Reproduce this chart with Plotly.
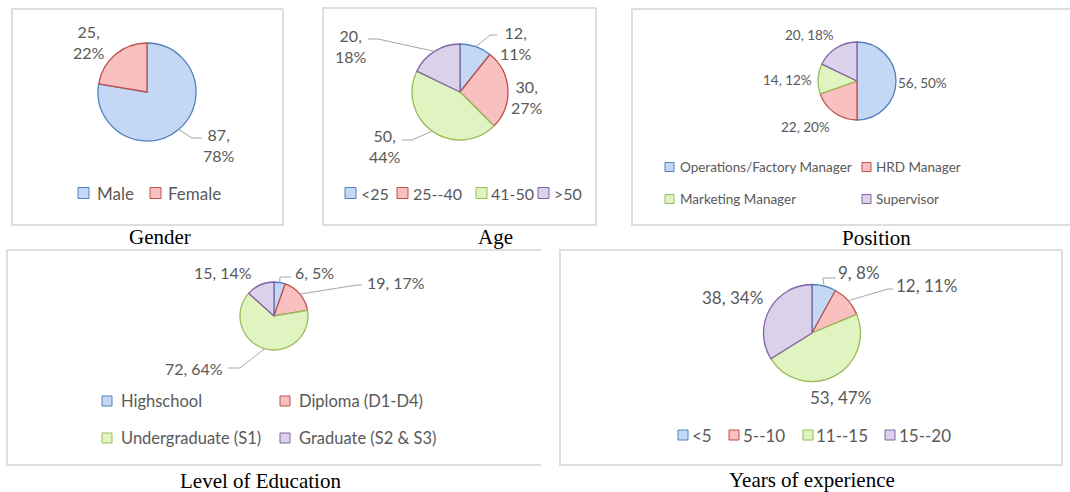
import math
import plotly.graph_objects as go

# ---------------- data ----------------
gender_labels = ["Male", "Female"]
gender_values = [87, 25]
gender_pct = [78, 22]

age_labels = ["<25", "25--40", "41-50", ">50"]
age_values = [12, 30, 50, 20]
age_pct = [11, 27, 44, 18]

position_labels = ["Operations/Factory Manager", "HRD Manager", "Marketing Manager", "Supervisor"]
position_values = [56, 22, 14, 20]
position_pct = [50, 20, 12, 18]

education_labels = ["Highschool", "Diploma (D1-D4)", "Undergraduate (S1)", "Graduate (S2 & S3)"]
education_values = [6, 19, 72, 15]
education_pct = [5, 17, 64, 14]

years_labels = ["<5", "5--10", "11--15", "15--20"]
years_values = [9, 12, 53, 38]
years_pct = [8, 11, 47, 34]

titles = ["Gender", "Age", "Position", "Level of Education", "Years of experience"]

# ---------------- styling / layout ----------------
W, H = 1070, 492
FILL = ["#c4d7f5", "#f8c1c0", "#e0f4c2", "#dbd1ea"]
LINE = ["#4f81bd", "#c0504d", "#9bbb59", "#8064a2"]
TXT = "#595959"
FONT = "Lato"


def px(x):
    return x / W


def py(y):
    return 1 - y / H


charts = [
    dict(labels=gender_labels, values=gender_values, pct=gender_pct, two_line=True,
         cx=147, cy=92, r=49, lab_size=16, leg_size=17, mk=11,
         label_pos=[(219, 145), (89, 42)],
         leaders={0: [(192, 138), (202, 138)]},
         legend=[(78, 193, 95), (150, 193, 166)],
         box=(12, 9, 283, 225, True), title_pos=(160, 237)),
    dict(labels=age_labels, values=age_values, pct=age_pct, two_line=True,
         cx=460, cy=92, r=48, lab_size=16, leg_size=16, mk=11,
         label_pos=[(516, 43), (527, 97), (385, 146), (351, 46)],
         leaders={0: [(490, 35), (497, 35)], 2: [(412, 140), (402, 140)], 3: [(378, 39), (368, 39)]},
         legend=[(345, 193, 359), (397, 193, 411), (476, 193, 489), (538, 193, 552)],
         box=(323, 8, 596, 225, True), title_pos=(495, 237)),
    dict(labels=position_labels, values=position_values, pct=position_pct, two_line=False,
         cx=857, cy=81, r=39, lab_size=13.5, leg_size=13.5, mk=9,
         label_pos=[(922, 83), (805, 127), (787, 80), (809, 35)],
         leaders={},
         legend=[(665, 167, 678), (862, 167, 874), (665, 199, 678), (862, 199, 874)],
         box=(632, 9, 1070, 225, False), title_pos=(876, 238)),
    dict(labels=education_labels, values=education_values, pct=education_pct, two_line=False,
         cx=274, cy=316, r=34, lab_size=16, leg_size=16.5, mk=10,
         label_pos=[(314, 272), (396, 282), (194, 368), (223, 272)],
         leaders={0: [(280, 277), (291, 277)], 1: [(357, 285), (362, 285)], 2: [(240, 368), (228, 368)]},
         legend=[(102, 401, 119), (280, 401, 297), (102, 438, 119), (280, 438, 297)],
         box=(7, 250, 541, 465, False), title_pos=(260, 481)),
    dict(labels=years_labels, values=years_values, pct=years_pct, two_line=False,
         cx=812, cy=333, r=48.5, lab_size=17, leg_size=17, mk=10,
         label_pos=[(859, 272), (926, 285), (840, 397), (732, 297)],
         leaders={0: [(823, 278), (836, 278)], 1: [(888, 289), (893, 289)]},
         legend=[(678, 435, 690), (729, 435, 741), (803, 435, 814), (885, 435, 897)],
         box=(560, 250, 1062, 465, True), title_pos=(812, 480)),
]

fig = go.Figure()
shapes = []
annotations = []

for ci, ch in enumerate(charts):
    cx, cy, r = ch["cx"], ch["cy"], ch["r"]
    fig.add_trace(go.Pie(
        labels=ch["labels"], values=ch["values"], sort=False, direction="clockwise",
        rotation=0, textinfo="none", hoverinfo="label+value+percent",
        marker=dict(colors=FILL, line=dict(color=LINE, width=1.3)),
        domain=dict(x=[px(cx - r), px(cx + r)], y=[py(cy + r), py(cy - r)]),
        showlegend=False,
    ))

    total = sum(ch["values"])
    cum = 0
    for i, (v, p) in enumerate(zip(ch["values"], ch["pct"])):
        mid = (cum + v / 2) / total * 2 * math.pi
        cum += v
        sep = ",<br>" if ch["two_line"] else ", "
        lx, ly = ch["label_pos"][i]
        annotations.append(dict(
            x=px(lx), y=py(ly), xref="paper", yref="paper", showarrow=False,
            text=f"{v}{sep}{p}%", xanchor="center", yanchor="middle", align="center",
            font=dict(family=FONT, size=ch["lab_size"], color=TXT)))
        if i in ch["leaders"]:
            ex, ey = cx + r * math.sin(mid), cy - r * math.cos(mid)
            pts = [(ex, ey)] + ch["leaders"][i]
            path = "M " + " L ".join(f"{px(a):.5f},{py(b):.5f}" for a, b in pts)
            shapes.append(dict(type="path", xref="paper", yref="paper", path=path,
                               line=dict(color="#a6a6a6", width=1)))

    # legend (drawn by hand: square swatch + text)
    for i, lab in enumerate(ch["labels"]):
        mx, my, tx = ch["legend"][i]
        s = ch["mk"]
        shapes.append(dict(type="rect", xref="paper", yref="paper",
                           x0=px(mx), x1=px(mx + s), y0=py(my + s / 2), y1=py(my - s / 2),
                           fillcolor=FILL[i], line=dict(color=LINE[i], width=1)))
        annotations.append(dict(
            x=px(tx), y=py(my), xref="paper", yref="paper", showarrow=False,
            text=lab, xanchor="left", yanchor="middle",
            font=dict(family=FONT, size=ch["leg_size"], color=TXT)))

    # frame
    x0, y0, x1, y1, right_side = ch["box"]
    pts = [(x1, y0), (x0, y0), (x0, y1), (x1, y1)]
    if right_side:
        pts.append((x1, y0))
    path = "M " + " L ".join(f"{px(a):.5f},{py(b):.5f}" for a, b in pts)
    shapes.append(dict(type="path", xref="paper", yref="paper", path=path,
                       line=dict(color="#dedede", width=2)))

    tx, ty = ch["title_pos"]
    annotations.append(dict(
        x=px(tx), y=py(ty), xref="paper", yref="paper", showarrow=False,
        text=titles[ci], xanchor="center", yanchor="middle",
        font=dict(family="Liberation Serif", size=21, color="#000000")))

fig.update_layout(
    width=W, height=H, margin=dict(l=0, r=0, t=0, b=0),
    paper_bgcolor="white", plot_bgcolor="white",
    shapes=shapes, annotations=annotations, showlegend=False,
)

fig.write_html("out.html", config={"displayModeBar": False},
               post_script="document.body.style.margin='0px';document.body.style.overflow='hidden';")
